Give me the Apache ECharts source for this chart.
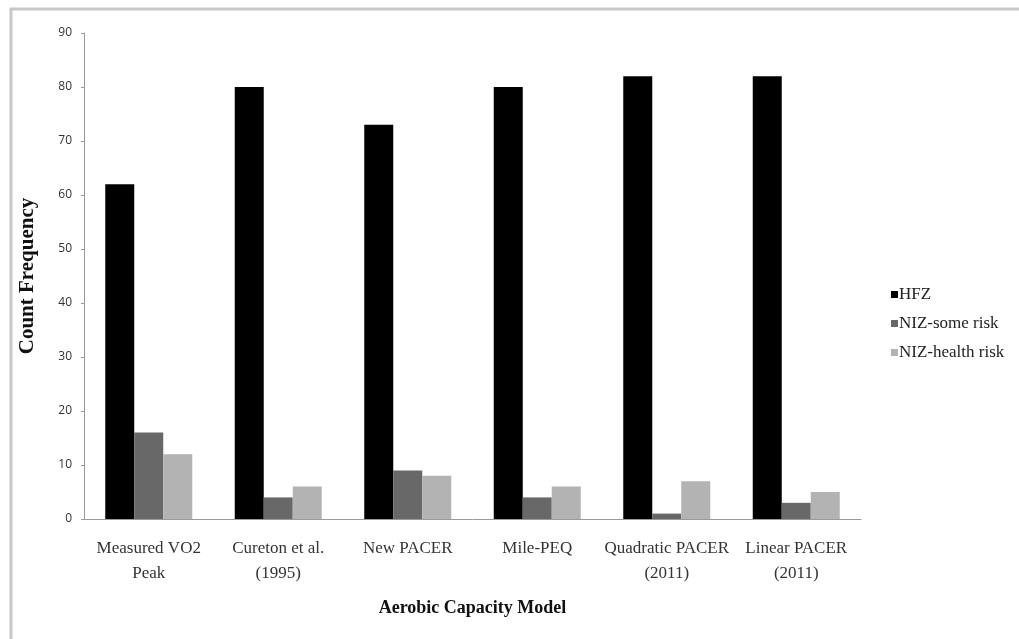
<!DOCTYPE html>
<html>
  <head>
    <meta charset="utf-8">
    <title>Aerobic Capacity Model</title>
    <script src="https://cdn.jsdelivr.net/npm/echarts@6/dist/echarts.min.js"></script>
    <style>
      body { margin: 0; background: #fff; }
    </style>
  </head>
  <body>
    <div id="main" style="width:1019px;height:639px;"></div>
    <script>
// data
var categories = ['Measured VO2\nPeak', 'Cureton et al.\n(1995)', 'New PACER', 'Mile-PEQ', 'Quadratic PACER\n(2011)', 'Linear PACER\n(2011)'];
var hfz = [62, 80, 73, 80, 82, 82];
var someRisk = [16, 4, 9, 4, 1, 3];
var healthRisk = [12, 6, 8, 6, 7, 5];

var serif = '"Liberation Serif", "DejaVu Serif", serif';

var myChart = echarts.init(document.getElementById('main'));
myChart.setOption({
    animation: false,
    graphic: [{
        type: 'polyline',
        shape: { points: [[11, 660], [11, 9], [1030, 9]] },
        style: { stroke: '#c8c8c8', lineWidth: 3, fill: null }
    }],
    grid: { left: 84, right: 158, top: 33, bottom: 120 },
    legend: {
        orient: 'vertical',
        left: 886,
        top: 281,
        itemWidth: 7,
        itemHeight: 7,
        itemGap: 12,
        icon: 'rect',
        textStyle: { fontFamily: serif, fontSize: 17, color: '#222', padding: [0, 0, 0, -4] },
        data: ['HFZ', 'NIZ-some risk', 'NIZ-health risk']
    },
    xAxis: {
        type: 'category',
        data: categories,
        name: 'Aerobic Capacity Model',
        nameLocation: 'middle',
        nameGap: 80,
        nameTextStyle: { fontFamily: serif, fontSize: 18, fontWeight: 'bold', color: '#111' },
        axisLine: { lineStyle: { color: '#9a9a9a', width: 1 } },
        axisTick: { show: false },
        axisLabel: { fontFamily: serif, fontSize: 17, color: '#333', margin: 17, lineHeight: 25, interval: 0 }
    },
    yAxis: {
        type: 'value',
        min: 0,
        max: 90,
        interval: 10,
        name: 'Count Frequency',
        nameLocation: 'middle',
        nameGap: 46,
        nameTextStyle: { fontFamily: serif, fontSize: 21, fontWeight: 'bold', color: '#111' },
        axisLine: { show: true, lineStyle: { color: '#9a9a9a', width: 1 } },
        axisTick: { show: true, length: 3, lineStyle: { color: '#9a9a9a' } },
        axisLabel: { fontFamily: '"Open Sans", sans-serif', fontSize: 12, color: '#333', margin: 12 },
        splitLine: { show: false }
    },
    series: [{
        name: 'HFZ',
        type: 'bar',
        barWidth: 29,
        barGap: '0%',
        itemStyle: { color: '#000000' },
        data: hfz
    }, {
        name: 'NIZ-some risk',
        type: 'bar',
        barWidth: 29,
        barGap: '0%',
        itemStyle: { color: '#686868' },
        data: someRisk
    }, {
        name: 'NIZ-health risk',
        type: 'bar',
        barWidth: 29,
        barGap: '0%',
        itemStyle: { color: '#b3b3b3' },
        data: healthRisk
    }]
});
    </script>
  </body>
</html>
